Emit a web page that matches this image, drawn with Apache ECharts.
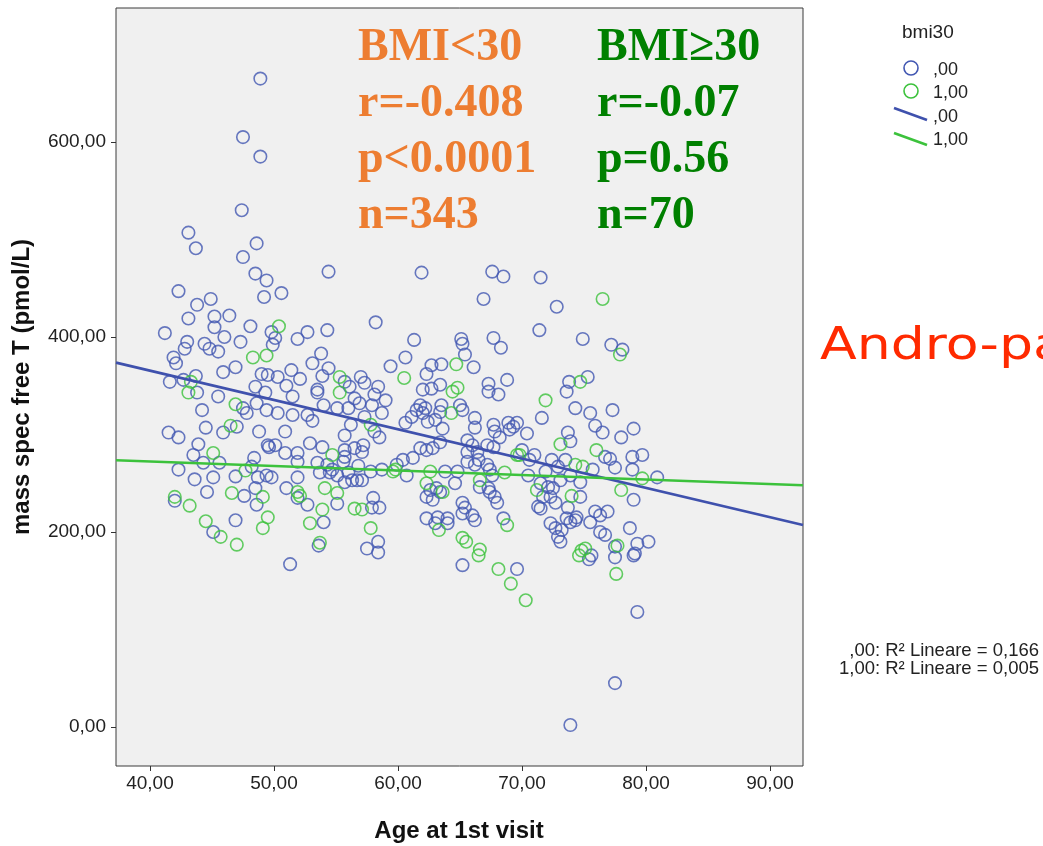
<!DOCTYPE html>
<html>
<head>
<meta charset="utf-8">
<script src="https://cdn.jsdelivr.net/npm/echarts@6/dist/echarts.min.js"></script>
<style>
html,body{margin:0;padding:0;background:#fff;}
#chart{width:1043px;height:846px;}
</style>
</head>
<body>
<div id="chart"></div>
<script>
// ---- data: [age at 1st visit, mass spec free T (pmol/L)] ----
const bmiUnder30 = [
[48.9,665],[47.5,605],[48.9,585],[47.4,530],[43.1,507],
[43.7,491],[48.6,496],[47.5,482],[48.5,465],[49.4,458],[49.2,441],[42.3,447],[44.9,439],[43.8,433],[43.1,419],
[45.2,421],[46.4,422],[45.2,410],[48.1,411],[41.2,404],[46.0,400],[47.3,395],[43.0,395],[44.4,393],[42.8,388],
[44.8,388],[45.5,385],[41.9,379],[42.1,373],[46.9,369],[45.9,364],[43.7,360],[49.0,362],[41.6,354],[42.7,356],
[43.8,343],[45.5,339],[48.5,349],[49.3,343],
[44.2,325],[48.6,332],[47.5,327],[47.8,322],[49.4,325],[41.5,302],[42.3,297],[44.5,307],[45.9,302],[47.0,308],
[48.8,303],[43.9,290],[49.6,287],[43.5,279],[44.3,271],[45.6,271],[48.4,276],[48.2,267],[42.3,264],[45.1,256],
[46.9,257],[48.7,256],[43.6,254],[48.5,245],[44.6,241],[47.6,237],[48.6,228],[42.0,232],[46.9,212],[45.1,200],
[54.4,467],[50.6,445],[58.2,415],[49.8,405],[50.1,399],[49.9,392],[52.7,405],[51.9,398],[54.3,407],[53.8,383],
[53.1,373],[54.4,368],[59.4,370],[51.4,366],[49.5,361],[50.3,359],[52.1,357],[53.9,360],[55.7,354],[57.0,359],
[57.3,353],[56.1,349],[58.4,349],[51.0,350],[53.5,346],[51.5,339],
[53.5,343],[56.5,337],[58.1,341],[59.0,335],[50.3,322],[51.5,320],[52.7,320],[53.1,314],[54.0,330],[55.1,327],
[56.0,327],[56.9,332],[57.9,330],[58.7,322],[57.3,318],[56.2,310],[58.1,303],[58.5,297],[50.9,303],[55.7,299],
[49.5,289],[50.1,289],[52.9,291],[53.9,287],[50.9,281],[51.9,281],[55.7,284],[55.7,277],[55.6,272],[56.5,286],
[57.2,289],[57.1,282],[51.9,272],[53.5,271],[54.3,269],[54.7,264],[56.8,268],[49.4,258],[49.8,256],[51.9,256],
[54.5,261],[55.1,258],[56.0,261],[56.3,253],[56.7,253],[57.8,262],[58.7,264],[53.7,261],[55.7,251],[57.1,253],
[51.0,245],[51.9,235],[55.1,229],[52.7,228],[58.0,235],[58.5,225],[57.9,225],[54.0,210],[58.4,190],[57.5,183],
[58.4,179],[53.6,186],[51.3,167],
[61.9,466],[67.6,467],[68.5,462],[66.9,439],[61.3,397],[65.1,398],[65.2,393],[67.7,399],[68.3,389],[65.4,382],
[60.6,379],[62.7,371],[63.5,372],[62.3,362],[66.1,369],[68.8,356],[63.4,351],[62.0,346],[62.7,347],[67.3,352],
[67.3,344],[68.1,341],
[61.8,330],[62.2,327],[61.5,325],[62.0,322],[63.5,330],[63.4,323],[65.0,330],[65.2,325],[60.6,312],[61.1,318],
[62.4,313],[63.0,315],[63.6,306],[66.2,317],[66.2,307],[67.7,310],[67.8,303],[68.2,297],[68.9,312],[69.3,308],
[69.0,305],[65.6,294],[66.0,289],[65.6,282],[66.4,282],[67.2,289],[67.7,287],[63.4,292],[62.8,286],[61.8,286],
[62.3,284],[65.6,272],[66.5,274],[66.2,269],[60.4,274],[59.9,269],[61.2,276],[60.7,258],[63.8,262],[64.8,262],
[67.2,269],[67.4,264],[67.6,258],[64.6,250],[66.6,246],[67.3,245],[62.6,243],[63.1,245],[63.4,241],[62.3,236],
[62.8,233],[67.4,241],[67.8,236],[68.0,230],[65.2,230],[65.4,225],[65.2,219],[66.0,217],[66.2,212],[62.3,214],
[63.2,215],[64.0,214],[63.0,209],[64.0,209],[68.5,214],
[71.5,461],[72.8,431],[71.4,407],[74.9,398],[77.2,392],[78.1,387],[75.3,359],[73.8,354],[73.6,344],
[74.3,327],[75.5,322],[77.3,325],[71.6,317],[75.9,309],[76.5,302],[79.0,306],[78.0,297],[69.6,312],[70.4,301],
[73.7,302],[73.9,293],[76.7,277],[77.1,275],[78.9,277],[79.7,279],[70.0,284],[71.0,279],[70.6,274],[72.4,274],
[73.5,274],[72.9,267],[75.7,264],[77.5,266],[78.9,264],[70.5,258],[71.9,262],[73.1,253],[74.7,251],[73.9,258],
[80.9,256],[71.5,250],[72.1,246],[72.5,245],[71.7,236],[72.3,236],[74.7,236],[79.0,233],[71.3,226],[71.5,224],
[72.7,230],[73.7,225],[74.4,215],[73.6,214],[75.9,221],[76.9,221],[76.3,217],[75.5,210],[72.3,209],[72.7,204],
[73.2,202],[72.9,195],[73.9,210],[74.3,212],[73.1,190],[76.3,200],[76.7,197],[78.7,204],[80.2,190],[79.3,188],
[79.1,178],[75.6,176],[77.5,185],
[65.2,166],[69.6,162],[75.4,172],[77.5,174],[79.0,176],[79.3,118],[77.5,45],[73.9,2]
];
const bmiOver30 = [
[48.3,379],[49.4,381],[43.3,354],[43.1,343],
[46.9,331],[46.5,309],[45.1,281],[47.7,263],[46.6,240],[49.1,236],[42.0,236],[43.2,227],[44.5,211],[45.7,195],
[47.0,187],[49.1,204],[49.5,215],
[50.4,411],[55.3,359],[55.3,343],
[57.8,310],[54.7,279],[59.6,262],[51.9,241],[52.1,237],[54.1,245],[55.1,240],[56.5,224],[57.1,223],[53.9,223],
[52.9,209],[57.8,204],[53.7,189],
[64.7,372],[60.5,358],[64.8,348],[64.4,344],
[64.3,322],[69.6,279],[59.8,264],[62.6,262],[68.6,261],[62.3,250],[66.6,253],[63.6,241],[63.3,202],[68.8,207],
[65.2,194],[65.5,190],[66.6,182],
[76.5,439],[77.9,382],[74.7,354],[71.9,335],
[73.1,290],[76.0,284],[69.8,279],[74.3,269],[74.9,267],[79.7,255],[71.2,243],[74.0,237],[78.0,243],[77.7,186],
[74.8,181],[75.1,183],
[66.5,176],[68.1,162],[69.1,147],[70.3,130],[74.6,176],[77.6,157]
];
// linear fit lines (end points at the plot edges)
const fitUnder30 = [[37.26,373.7],[92.66,207.2]];
const fitOver30 = [[37.26,273.5],[92.66,247.9]];
const xTicks = [40,50,60,70,80,90];
const yTicks = [0,200,400,600];
const xRange = [37.26, 92.66];
const yRange = [-40, 737.4];

const BLUE = '#4257b2';
const GREEN = '#3cc23c';
const fmt = v => Number(v).toFixed(2).replace('.', ',');
const FONT = '"Liberation Sans", Arial, sans-serif';

const chart = echarts.init(document.getElementById('chart'), null, {renderer:'canvas'});
chart.setOption({
  animation:false,
  backgroundColor:'#ffffff',
  grid:{left:116, top:8, width:687, height:758, show:true, backgroundColor:'#f0f0f0', borderColor:'#3a3a3a', borderWidth:1},
  xAxis:{
    type:'value', min:xRange[0], max:xRange[1],
    axisLine:{show:false, onZero:false},
    splitLine:{show:false},
    axisTick:{show:true, customValues:xTicks, length:5, lineStyle:{color:'#333'}},
    axisLabel:{customValues:xTicks, formatter:fmt, color:'#222', fontFamily:FONT, fontSize:19, margin:8}
  },
  yAxis:{
    type:'value', min:yRange[0], max:yRange[1],
    axisLine:{show:false, onZero:false},
    splitLine:{show:false},
    axisTick:{show:true, customValues:yTicks, length:5, lineStyle:{color:'#333'}},
    axisLabel:{customValues:yTicks, formatter:fmt, color:'#222', fontFamily:FONT, fontSize:19, margin:10}
  },
  series:[
    {type:'scatter', data:bmiUnder30, symbol:'circle', symbolSize:12.5, silent:true,
     itemStyle:{color:'rgba(0,0,0,0)', borderColor:BLUE, borderWidth:1.6}},
    {type:'scatter', data:bmiOver30, symbol:'circle', symbolSize:12.5, silent:true,
     itemStyle:{color:'rgba(0,0,0,0)', borderColor:GREEN, borderWidth:1.6}},
    {type:'line', data:fitUnder30, showSymbol:false, silent:true, lineStyle:{color:'#3f51ad', width:2.6}, z:5},
    {type:'line', data:fitOver30, showSymbol:false, silent:true, lineStyle:{color:GREEN, width:2.6}, z:5}
  ],
  graphic:[
    {type:'text', x:22, y:387, rotation:Math.PI/2, style:{text:'mass spec free T (pmol/L)', font:'bold 24px '+FONT, fill:'#111', textAlign:'center', textVerticalAlign:'middle'}},
    {type:'text', x:459, y:831, style:{text:'Age at 1st visit', font:'bold 24px '+FONT, fill:'#111', textAlign:'center', textVerticalAlign:'middle'}},

    {type:'text', x:358, y:48, style:{text:'BMI<30', font:'bold 46px "Liberation Serif", serif', fill:'#ed7d31', textVerticalAlign:'middle'}},
    {type:'text', x:358, y:104, style:{text:'r=-0.408', font:'bold 46px "Liberation Serif", serif', fill:'#ed7d31', textVerticalAlign:'middle'}},
    {type:'text', x:358, y:160, style:{text:'p<0.0001', font:'bold 46px "Liberation Serif", serif', fill:'#ed7d31', textVerticalAlign:'middle'}},
    {type:'text', x:358, y:216, style:{text:'n=343', font:'bold 46px "Liberation Serif", serif', fill:'#ed7d31', textVerticalAlign:'middle'}},
    {type:'text', x:597, y:48, style:{text:'BMI≥30', font:'bold 46px "Liberation Serif", serif', fill:'#008000', textVerticalAlign:'middle'}},
    {type:'text', x:597, y:104, style:{text:'r=-0.07', font:'bold 46px "Liberation Serif", serif', fill:'#008000', textVerticalAlign:'middle'}},
    {type:'text', x:597, y:160, style:{text:'p=0.56', font:'bold 46px "Liberation Serif", serif', fill:'#008000', textVerticalAlign:'middle'}},
    {type:'text', x:597, y:216, style:{text:'n=70', font:'bold 46px "Liberation Serif", serif', fill:'#008000', textVerticalAlign:'middle'}},

    {type:'text', x:820, y:348, scaleX:1.22, style:{text:'Andro-pausa', font:'44px "DejaVu Sans", sans-serif', fill:'#ff2a00', textVerticalAlign:'middle'}},

    {type:'text', x:902, y:33, style:{text:'bmi30', font:'19px '+FONT, fill:'#222', textVerticalAlign:'middle'}},
    {type:'circle', shape:{cx:911, cy:68, r:7}, style:{fill:'none', stroke:BLUE, lineWidth:1.6}},
    {type:'circle', shape:{cx:911, cy:91, r:7}, style:{fill:'none', stroke:GREEN, lineWidth:1.6}},
    {type:'line', shape:{x1:894, y1:108, x2:927, y2:120}, style:{stroke:'#3f51ad', lineWidth:2.6}},
    {type:'line', shape:{x1:894, y1:133, x2:927, y2:145}, style:{stroke:GREEN, lineWidth:2.6}},
    {type:'text', x:933, y:70, style:{text:',00', font:'18px '+FONT, fill:'#222', textVerticalAlign:'middle'}},
    {type:'text', x:933, y:93, style:{text:'1,00', font:'18px '+FONT, fill:'#222', textVerticalAlign:'middle'}},
    {type:'text', x:933, y:117, style:{text:',00', font:'18px '+FONT, fill:'#222', textVerticalAlign:'middle'}},
    {type:'text', x:933, y:140, style:{text:'1,00', font:'18px '+FONT, fill:'#222', textVerticalAlign:'middle'}},

    {type:'text', x:1039, y:651, style:{text:',00: R² Lineare = 0,166', font:'18.5px '+FONT, fill:'#222', textAlign:'right', textVerticalAlign:'middle'}},
    {type:'text', x:1039, y:669, style:{text:'1,00: R² Lineare = 0,005', font:'18.5px '+FONT, fill:'#222', textAlign:'right', textVerticalAlign:'middle'}}
  ]
});
</script>
</body>
</html>
